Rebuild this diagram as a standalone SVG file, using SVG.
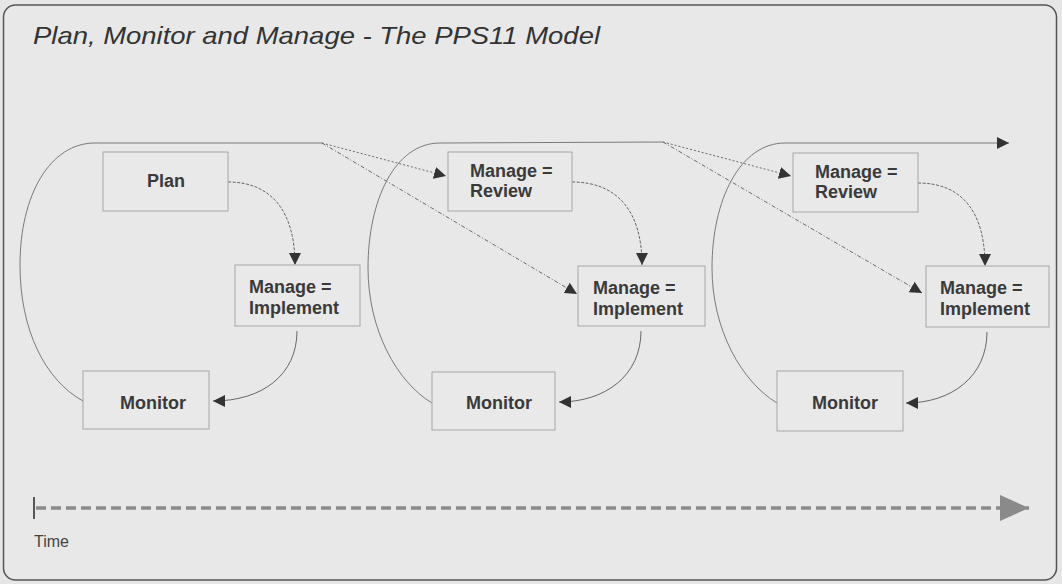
<svg xmlns="http://www.w3.org/2000/svg" width="1062" height="584" viewBox="0 0 1062 584">
  <style>
    .box { fill: #e9e9e9; stroke: #a6a6a6; stroke-width: 1; }
    .lbl { font-family: "Liberation Sans", Arial, sans-serif; font-size: 18px; font-weight: bold; fill: #3a3a3a; }
    .title { font-family: "Liberation Sans", Arial, sans-serif; font-size: 24px; font-style: italic; fill: #333333; }
    .time { font-family: "Liberation Sans", Arial, sans-serif; font-size: 16px; fill: #444444; }
    .arc { fill: none; stroke: #7a7a7a; stroke-width: 1; }
    .flow { fill: none; stroke: #666666; stroke-width: 1; stroke-dasharray: 3 1.5; }
    .solid { fill: none; stroke: #666666; stroke-width: 1; }
    .diag { fill: none; stroke: #6a6a6a; stroke-width: 1; stroke-dasharray: 4 2 1 2; }
    .dot { fill: none; stroke: #6a6a6a; stroke-width: 1; stroke-dasharray: 2 2; }
  </style>
  <defs>
    <marker id="ah" markerUnits="userSpaceOnUse" markerWidth="13" markerHeight="12" refX="12" refY="6" orient="auto">
      <path d="M0,0 L12,6 L0,12 Z" fill="#333333"/>
    </marker>
    <marker id="tah" markerUnits="userSpaceOnUse" markerWidth="30" markerHeight="26" refX="29" refY="13" orient="auto">
      <path d="M0,0 L29,13 L0,26 Z" fill="#8a8a8a"/>
    </marker>
  </defs>

  <rect x="0" y="0" width="1062" height="584" fill="#e6e6e6"/>
  <rect id="frame" x="3.5" y="5" width="1053" height="575" rx="12" ry="12" fill="#e8e8e8" stroke="#555555" stroke-width="1.5"/>

  <text class="title" x="33" y="44" textLength="567" lengthAdjust="spacingAndGlyphs">Plan, Monitor and Manage - The PPS11 Model</text>

  <g id="connectors">
    <!-- cycle 1 -->
    <path class="arc" d="M83,401 C45,380 20,330 20,265 C20,195 50,143 95,143 L322,143"/>
    <path class="dot" d="M322,143 L446,176" marker-end="url(#ah)"/>
    <path class="diag" d="M322,143 L577,294" marker-end="url(#ah)"/>
    <path class="flow" d="M228,182 C272,182 295,212 295,265" marker-end="url(#ah)"/>
    <path class="solid" d="M297,331 C297,375 262,401 213,401" marker-end="url(#ah)"/>
    <!-- cycle 2 -->
    <path class="arc" d="M432,403 C397,382 368,330 368,268 C368,200 395,143 440,143 L663,142"/>
    <path class="dot" d="M663,142 L791,176" marker-end="url(#ah)"/>
    <path class="diag" d="M663,142 L922,293" marker-end="url(#ah)"/>
    <path class="flow" d="M572,182 C618,182 642,212 642,265" marker-end="url(#ah)"/>
    <path class="solid" d="M641,331 C641,375 606,402 559,402" marker-end="url(#ah)"/>
    <!-- cycle 3 -->
    <path class="arc" d="M777,403 C742,382 712,330 712,268 C712,200 740,143 785,143 L1009,143" marker-end="url(#ah)"/>
    <path class="flow" d="M918,183 C963,183 985,213 985,266" marker-end="url(#ah)"/>
    <path class="solid" d="M987,332 C987,376 952,403 906,403" marker-end="url(#ah)"/>
    <!-- time axis -->
    <line x1="34" y1="497" x2="34" y2="519" stroke="#555555" stroke-width="2"/>
    <line x1="36" y1="508" x2="1029" y2="508" stroke="#8a8a8a" stroke-width="3.5" stroke-dasharray="10 5" marker-end="url(#tah)"/>
  </g>

  <g id="plan">
    <rect class="box" x="103" y="152" width="125" height="59"/>
    <text class="lbl" x="147" y="187">Plan</text>
  </g>
  <g id="implement1">
    <rect class="box" x="235" y="265" width="125" height="61"/>
    <text class="lbl" x="249" y="293">Manage =</text>
    <text class="lbl" x="249" y="314">Implement</text>
  </g>
  <g id="monitor1">
    <rect class="box" x="83" y="371" width="126" height="58"/>
    <text class="lbl" x="120" y="409">Monitor</text>
  </g>
  <g id="review2">
    <rect class="box" x="448" y="152" width="124" height="59"/>
    <text class="lbl" x="470" y="177">Manage =</text>
    <text class="lbl" x="470" y="197">Review</text>
  </g>
  <g id="implement2">
    <rect class="box" x="578" y="266" width="127" height="60"/>
    <text class="lbl" x="593" y="294">Manage =</text>
    <text class="lbl" x="593" y="315">Implement</text>
  </g>
  <g id="monitor2">
    <rect class="box" x="432" y="372" width="123" height="58"/>
    <text class="lbl" x="466" y="409">Monitor</text>
  </g>
  <g id="review3">
    <rect class="box" x="793" y="153" width="125" height="59"/>
    <text class="lbl" x="815" y="178">Manage =</text>
    <text class="lbl" x="815" y="198">Review</text>
  </g>
  <g id="implement3">
    <rect class="box" x="926" y="266" width="123" height="61"/>
    <text class="lbl" x="940" y="294">Manage =</text>
    <text class="lbl" x="940" y="315">Implement</text>
  </g>
  <g id="monitor3">
    <rect class="box" x="777" y="371" width="126" height="60"/>
    <text class="lbl" x="812" y="409">Monitor</text>
  </g>

  <text class="time" x="34" y="547">Time</text>
</svg>
